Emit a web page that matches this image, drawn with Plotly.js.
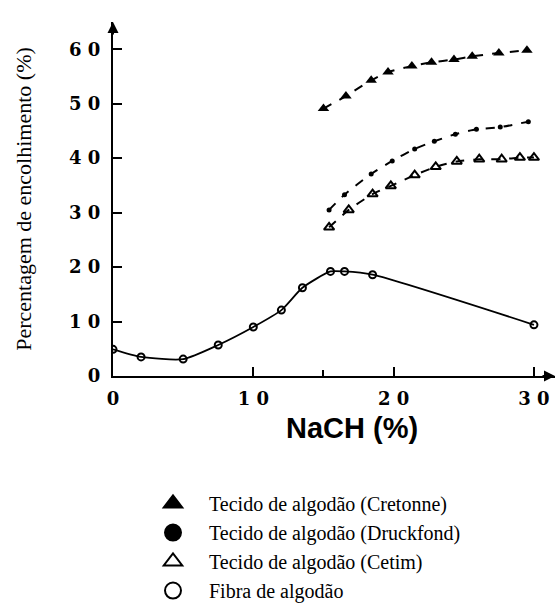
<!DOCTYPE html>
<html>
<head>
<meta charset="utf-8">
<script src="https://cdn.plot.ly/plotly-3.0.1.min.js"></script>
<style>html,body{margin:0;padding:0;background:#fff;}</style>
</head>
<body>
<div id="chart" style="width:555px;height:606px;"></div>
<script>
// ---- data ----
const seriesNames = [
  "Tecido de algodão (Cretonne)",
  "Tecido de algodão (Druckfond)",
  "Tecido de algodão (Cetim)",
  "Fibra de algodão"
];
const cretonneX = [15, 16.6, 18.4, 19.6, 21.3, 22.7, 24.3, 25.6, 27.5, 29.5];
const cretonneY = [49.1, 51.4, 54.3, 55.8, 56.9, 57.6, 58.1, 58.7, 59.3, 59.8];
const druckX = [15.4, 16.5, 18.4, 19.9, 21.5, 22.9, 24.4, 25.9, 27.6, 29.6];
const druckY = [30.5, 33.3, 37.1, 39.5, 41.7, 43.1, 44.4, 45.3, 45.7, 46.7];
const cetimX = [15.4, 16.8, 18.5, 19.8, 21.5, 23.0, 24.5, 26.1, 27.7, 29.0, 30.0];
const cetimY = [27.3, 30.5, 33.4, 34.9, 36.9, 38.4, 39.4, 39.8, 39.8, 40.1, 40.1];
const fibraX = [0, 2, 5, 7.5, 10, 12, 13.5, 15.5, 16.5, 18.5, 30];
const fibraY = [4.9, 3.5, 3.1, 5.7, 9.0, 12.1, 16.2, 19.2, 19.2, 18.6, 9.4];

const xTickVals = [0, 10, 20, 30];
const xTickText = ["0", "1 0", "2 0", "3 0"];
const yTickVals = [0, 10, 20, 30, 40, 50, 60];
const yTickText = ["0", "1 0", "2 0", "3 0", "4 0", "5 0", "6 0"];
const xTitle = "NaCH (%)";
const yTitle = "Percentagem de encolhimento (%)";

// ---- traces ----
const ink = "#000";
const traces = [
  {x: cretonneX, y: cretonneY, mode: "lines+markers", showlegend: false,
   line: {color: ink, width: 2, dash: "dash", shape: "spline", smoothing: 0.6},
   marker: {symbol: "triangle-up", size: 10, color: ink}},
  {x: druckX, y: druckY, mode: "lines+markers", showlegend: false,
   line: {color: ink, width: 2, dash: "dash", shape: "spline", smoothing: 0.6},
   marker: {symbol: "circle", size: 5, color: ink}},
  {x: cetimX, y: cetimY, mode: "lines+markers", showlegend: false,
   line: {color: ink, width: 2, dash: "dash", shape: "spline", smoothing: 0.6},
   marker: {symbol: "triangle-up-open", size: 9, color: ink, line: {width: 2, color: ink}}},
  {x: fibraX, y: fibraY, mode: "lines+markers", showlegend: false,
   line: {color: ink, width: 1.8, shape: "spline", smoothing: 0.6},
   marker: {symbol: "circle-open", size: 7, color: ink, line: {width: 2, color: ink}}}
];
// legend-only entries (markers only, as in the reference legend)
const legendSymbols = ["triangle-up", "circle", "triangle-up-open", "circle-open"];
seriesNames.forEach((name, i) => {
  traces.push({
    x: [null], y: [null], mode: "markers", name: name, showlegend: true,
    marker: {symbol: legendSymbols[i], size: 20, color: ink, line: {width: 2, color: ink}}
  });
});

const tickFont = {family: "DejaVu Serif, serif", size: 18, color: ink, weight: "bold"};

const layout = {
  width: 555, height: 606,
  margin: {l: 113, r: 0, t: 22, b: 230, pad: 0, autoexpand: false},
  paper_bgcolor: "#fff", plot_bgcolor: "#fff",
  showlegend: true,
  legend: {
    xref: "paper", x: 0.0543, xanchor: "left",
    yref: "container", y: 0.2013, yanchor: "top",
    font: {family: "Liberation Serif, Times New Roman, serif", size: 20, color: ink},
    bgcolor: "rgba(0,0,0,0)", borderwidth: 0, itemsizing: "trace", itemwidth: 62
  },
  xaxis: {
    range: [0, 31.5], showgrid: false, zeroline: false,
    showline: true, linecolor: ink, linewidth: 2,
    ticks: "inside", ticklen: 9, tickwidth: 2, tickcolor: ink,
    tickmode: "array", tickvals: xTickVals, ticktext: xTickText,
    tickfont: tickFont, ticklabelstandoff: 5,
    minor: {tickvals: [15], ticks: "inside", ticklen: 6, tickwidth: 2, tickcolor: ink},
    automargin: false, fixedrange: true
  },
  yaxis: {
    range: [0, 65], showgrid: false, zeroline: false,
    showline: true, linecolor: ink, linewidth: 2,
    ticks: "inside", ticklen: 9, tickwidth: 2, tickcolor: ink,
    tickmode: "array", tickvals: yTickVals, ticktext: yTickText,
    tickfont: tickFont, ticklabelstandoff: 7,
    title: {text: yTitle, standoff: 31,
            font: {family: "Liberation Serif, Times New Roman, serif", size: 22, color: ink}},
    automargin: false, fixedrange: true
  },
  annotations: [
    {xref: "paper", yref: "paper", x: 0.5407, y: -0.147, xanchor: "center", yanchor: "middle",
     text: xTitle, showarrow: false,
     font: {family: "Liberation Sans, Arial, sans-serif", size: 29, color: ink, weight: "bold"}},
    {xref: "x", yref: "y", x: 0, y: 65, ax: 0, ay: 14, text: "", showarrow: true,
     arrowhead: 2, arrowsize: 1.1, arrowwidth: 2, arrowcolor: ink},
    {xref: "x", yref: "y", x: 31.5, y: 0, ax: -14, ay: 0, text: "", showarrow: true,
     arrowhead: 2, arrowsize: 1.1, arrowwidth: 2, arrowcolor: ink}
  ]
};

Plotly.newPlot("chart", traces, layout, {displayModeBar: false, staticPlot: true});
</script>
</body>
</html>
